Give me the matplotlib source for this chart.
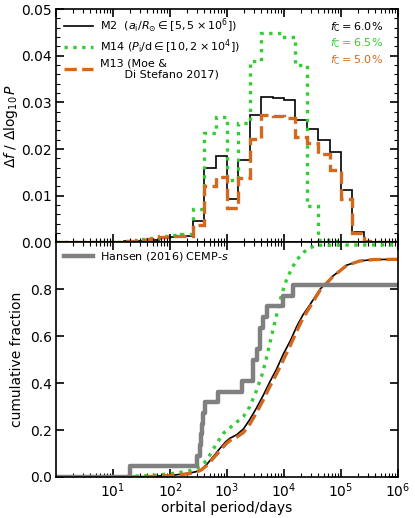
import numpy as np
import matplotlib
matplotlib.use('Agg')
import matplotlib.pyplot as plt
from matplotlib.ticker import MultipleLocator, LogLocator, NullFormatter

# histogram: bins in log10(P/days), 0.2 dex wide from 0 to 6
log_edges = np.linspace(0.0, 6.0, 31)

m2_hist = [0, 0, 0, 0, 0, 0,
           0.0002, 0.0004, 0.0006, 0.0009, 0.0011, 0.0013,
           0.0046, 0.0160, 0.0185, 0.0092, 0.0176, 0.0273, 0.0311, 0.0310,
           0.0305, 0.0262, 0.0243, 0.0219, 0.0194, 0.0113, 0.0022,
           0, 0, 0]
m14_hist = [0, 0, 0, 0, 0, 0,
            0.0003, 0.0007, 0.0010, 0.0013, 0.0016, 0.0019,
            0.0072, 0.0235, 0.0269, 0.0134, 0.0256, 0.0389, 0.0449, 0.0449,
            0.0441, 0.0380, 0.0077, 0.0005, 0.0003, 0, 0,
            0, 0, 0]
m13_hist = [0, 0, 0, 0, 0, 0,
            0.0002, 0.0005, 0.0008, 0.0011, 0.0013, 0.0014,
            0.0038, 0.0121, 0.0141, 0.0073, 0.0137, 0.0221, 0.0274, 0.0270,
            0.0266, 0.0226, 0.0212, 0.0189, 0.0156, 0.0094, 0.0020,
            0.0002, 0, 0]

# cumulative fractions (log10 P, fraction)
m2_cum_logp = [0, 1.2, 1.6, 2.0, 2.3, 2.45, 2.55, 2.65, 2.76, 2.87, 2.97, 3.05,
               3.17, 3.29, 3.40, 3.52, 3.64, 3.75, 3.87, 3.99, 4.11, 4.22, 4.33,
               4.43, 4.63, 4.86, 5.10, 5.33, 5.57, 6.0]
m2_cum = [0, 0, 0.002, 0.006, 0.015, 0.022, 0.032, 0.055, 0.087, 0.12, 0.148,
          0.165, 0.18, 0.205, 0.245, 0.295, 0.35, 0.405, 0.46, 0.525, 0.58,
          0.64, 0.69, 0.725, 0.80, 0.857, 0.903, 0.921, 0.927, 0.928]
m13_cum = [0, 0, 0.002, 0.005, 0.013, 0.02, 0.03, 0.05, 0.08, 0.11, 0.138,
           0.155, 0.17, 0.19, 0.225, 0.275, 0.33, 0.385, 0.44, 0.50, 0.56,
           0.62, 0.675, 0.715, 0.795, 0.855, 0.902, 0.921, 0.927, 0.928]
m14_cum_logp = [0, 1.0, 1.42, 1.77, 2.12, 2.35, 2.53, 2.64, 2.70, 2.82, 2.94,
                3.11, 3.29, 3.40, 3.52, 3.62, 3.70, 3.78, 3.87, 3.96, 4.05,
                4.14, 4.22, 4.40, 4.57, 6.0]
m14_cum = [0, 0, 0.004, 0.008, 0.017, 0.027, 0.044, 0.07, 0.094, 0.144, 0.187,
           0.222, 0.258, 0.30, 0.37, 0.44, 0.515, 0.60, 0.69, 0.78, 0.845,
           0.89, 0.925, 0.971, 0.988, 0.99]

# Hansen et al. (2016) CEMP-s binaries, periods in days (22 stars in sample)
hansen_periods = [19.5, 295, 330, 345, 370, 375, 407, 708, 1820, 2850, 2900,
                  3310, 3750, 3850, 4365, 5010, 9770, 14450]
hansen_nstars = 22

c_m2 = 'black'
c_m14 = '#33cc33'
c_m13 = '#d2691e'

plt.rcParams['font.family'] = 'DejaVu Sans'
plt.rcParams['mathtext.fontset'] = 'dejavusans'
plt.rcParams['axes.linewidth'] = 1.2

fig = plt.figure(figsize=(4.15, 5.18), dpi=100)
ax1 = fig.add_axes([0.135, 0.532, 0.824, 0.4506])
ax2 = fig.add_axes([0.135, 0.0792, 0.824, 0.4528])

edges = 10 ** log_edges
ax1.stairs(m2_hist, edges, color=c_m2, lw=1.2,
           label=r'M2  ($a_{\rm i}/R_{\odot}\in[5,5\times10^6]$)')
ax1.stairs(m14_hist, edges, color=c_m14, lw=2.4, ls=':',
           label=r'M14 ($P_{\rm i}$/d$\in[10,2\times10^4]$)')
ax1.stairs(m13_hist, edges, color=c_m13, lw=2.4, ls='--',
           label='M13 (Moe &\n       Di Stefano 2017)')

leg = ax1.legend(loc='upper left', frameon=False, fontsize=8,
                 handlelength=2.6, borderaxespad=0.3, labelspacing=0.2,
                 handletextpad=0.7)

ax1.text(0.955, 0.923, r'$f_{\rm C} = 6.0\%$', color=c_m2, fontsize=8,
         ha='right', va='center', transform=ax1.transAxes)
ax1.text(0.955, 0.854, r'$f_{\rm C} = 6.5\%$', color=c_m14, fontsize=8,
         ha='right', va='center', transform=ax1.transAxes)
ax1.text(0.955, 0.782, r'$f_{\rm C} = 5.0\%$', color=c_m13, fontsize=8,
         ha='right', va='center', transform=ax1.transAxes)

ax1.set_ylim(0, 0.05)
ax1.yaxis.set_major_locator(MultipleLocator(0.01))
ax1.yaxis.set_minor_locator(MultipleLocator(0.002))
ax1.set_yticklabels(['%.2f' % v for v in ax1.get_yticks()])
ax1.set_ylabel(r'$\Delta f\ /\ \Delta\log_{10}P$', fontsize=10, labelpad=1)

# bottom panel: cumulative
ax2.plot(10 ** np.array(m2_cum_logp), m2_cum, color=c_m2, lw=1.2)
ax2.plot(10 ** np.array(m14_cum_logp), m14_cum, color=c_m14, lw=2.4, ls=':')
ax2.plot(10 ** np.array(m2_cum_logp), m13_cum, color=c_m13, lw=2.4, ls='--')

hp = np.concatenate([[1.0], hansen_periods, [1e6]])
hf = np.concatenate([[0], np.arange(1, len(hansen_periods) + 1),
                     [len(hansen_periods)]]) / hansen_nstars
ax2.step(hp, hf, where='post', color='0.5', lw=3.2,
         label=r'Hansen (2016) CEMP-$s$')
ax2.legend(loc='upper left', frameon=False, fontsize=8,
           handlelength=2.6, borderaxespad=0.3, handletextpad=0.7)

ax2.set_ylim(0, 1.0)
ax2.set_yticks([0.0, 0.2, 0.4, 0.6, 0.8])
ax2.set_yticklabels(['0.0', '0.2', '0.4', '0.6', '0.8'])
ax2.set_ylabel('cumulative fraction', fontsize=10, labelpad=4)
ax2.set_xlabel('orbital period/days', fontsize=10, labelpad=1)

for ax in (ax1, ax2):
    ax.set_xscale('log')
    ax.set_xlim(1, 1e6)
    ax.xaxis.set_major_locator(LogLocator(base=10, numticks=10))
    ax.xaxis.set_minor_locator(LogLocator(base=10, subs=np.arange(2, 10), numticks=20))
    ax.xaxis.set_minor_formatter(NullFormatter())
    ax.tick_params(which='both', direction='in', top=True, right=True,
                   labelsize=10, pad=3)
    ax.tick_params(which='major', length=6, width=1.2)
    ax.tick_params(which='minor', length=3, width=0.8)

ax1.tick_params(labelbottom=False)
ax2.set_xticks([1e1, 1e2, 1e3, 1e4, 1e5, 1e6])

fig.savefig('out.png', dpi=100)
